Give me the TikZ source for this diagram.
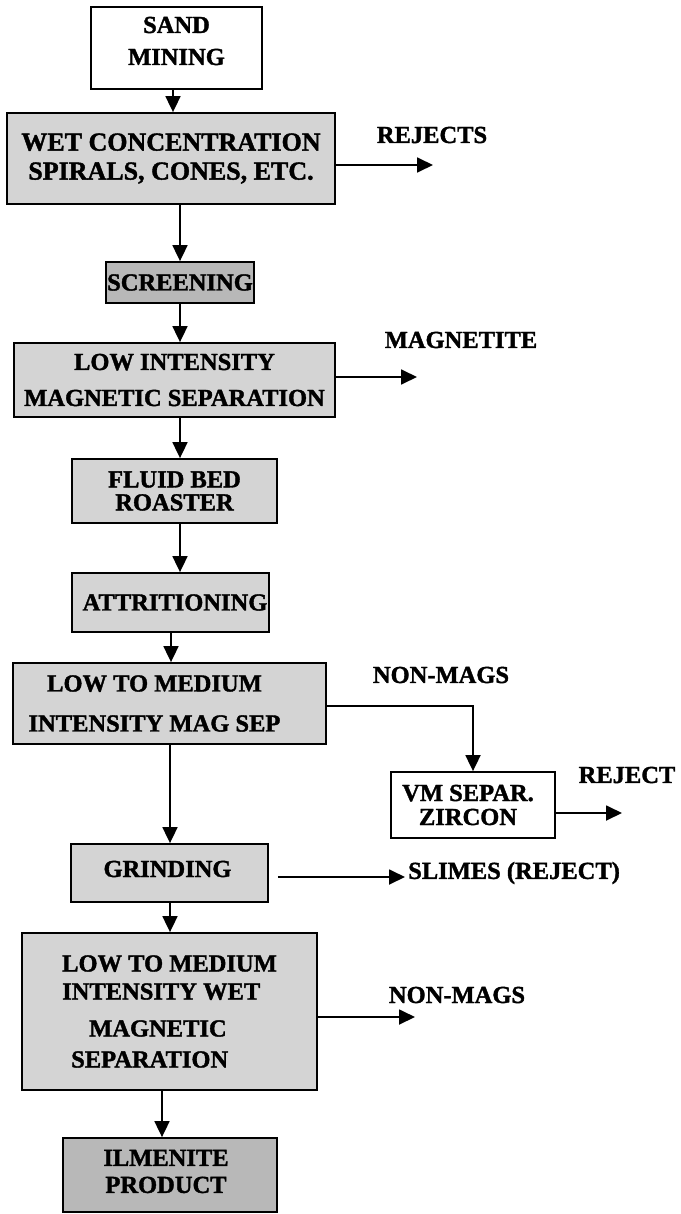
\documentclass[tikz,border=0pt]{standalone}
\usepackage{fontspec}
\setmainfont{Liberation Serif}[BoldFeatures={FakeBold=1.5}]
\usetikzlibrary{arrows.meta}
\definecolor{boxgray}{RGB}{212,212,212}
\definecolor{boxdark}{RGB}{184,184,184}
\tikzset{
  box/.style={draw=black, line width=1.8pt, inner sep=0pt},
  graybox/.style={box, fill=boxgray},
  darkbox/.style={box, fill=boxdark},
  whitebox/.style={box, fill=white},
  txt/.style={font=\fontsize{24.5}{#1}\selectfont\bfseries, align=center, inner sep=0pt},
  txt/.default=29,
  flow/.style={line width=1.8pt, -{Triangle[length=16pt,width=15pt]}},
}
\begin{document}
\begin{tikzpicture}[x=1pt,y=-1pt]
\useasboundingbox (0,0) rectangle (680,1214);

% boxes
\node[whitebox, minimum width=171pt, minimum height=82pt,
  label={[txt=32, yshift=7pt]center:{SAND\\MINING}}] (sand) at (176.5,48) {};
\node[graybox, minimum width=328pt, minimum height=91pt,
  label={[txt, font=\fontsize{26}{29}\selectfont\bfseries]center:{WET CONCENTRATION\\SPIRALS, CONES, ETC.}}] (wet) at (171,158.5) {};
\node[darkbox, minimum width=148pt, minimum height=41pt,
  label={[txt]center:{SCREENING}}] (screen) at (180,282.5) {};
\node[graybox, minimum width=321pt, minimum height=74pt,
  label={[txt=36]center:{LOW INTENSITY\\MAGNETIC SEPARATION}}] (lowint) at (174.5,380) {};
\node[graybox, minimum width=205pt, minimum height=64pt,
  label={[txt=23]center:{FLUID BED\\ROASTER}}] (fluid) at (174.5,491) {};
\node[graybox, minimum width=197pt, minimum height=59pt,
  label={[txt, xshift=4.5pt]center:{ATTRITIONING}}] (attr) at (170.5,602.5) {};
\node[graybox, minimum width=313pt, minimum height=81pt,
  label={[txt=40, xshift=-15pt]center:{LOW TO MEDIUM\\INTENSITY MAG SEP}}] (lms) at (169.5,703.5) {};
\node[whitebox, minimum width=164pt, minimum height=66pt,
  label={[txt=24, xshift=-5pt]center:{VM SEPAR.\\ZIRCON}}] (vm) at (473,805) {};
\node[graybox, minimum width=197pt, minimum height=58pt,
  label={[txt, yshift=4pt, xshift=-2pt]center:{GRINDING}}] (grind) at (169.5,873) {};
\node[graybox, minimum width=295pt, minimum height=157pt,
  label={[txt=28, align=left]center:{LOW TO MEDIUM\\INTENSITY WET\\[9pt]\hspace*{27pt}MAGNETIC\\[3pt]\hspace*{9pt}SEPARATION}}] (lmw) at (169.5,1011.5) {};
\node[darkbox, minimum width=214pt, minimum height=74pt,
  label={[txt=27, yshift=3.5pt, xshift=-4pt]center:{ILMENITE\\PRODUCT}}] (ilm) at (170,1175) {};

% outlet labels
\node[txt] (lrejects) at (432,135) {REJECTS};
\node[txt] (lmagnetite) at (461,340) {MAGNETITE};
\node[txt] (lnonmags1) at (441,675) {NON-MAGS};
\node[txt] (lreject) at (627,775) {REJECT};
\node[txt, anchor=west] (lslimes) at (408,873) {SLIMES (REJECT)};
\node[txt] (lnonmags2) at (457,995) {NON-MAGS};

% free ends
\coordinate (rejE) at (433,165);
\coordinate (magE) at (417,377);
\coordinate (rej2E) at (622,813);
\coordinate (slE) at (405,877);
\coordinate (nmE) at (415,1017);

% main line
\draw[flow] (173,0 |- sand.south) -- (173,0 |- wet.north);
\draw[flow] (180,0 |- wet.south) -- (180,0 |- screen.north);
\draw[flow] (180,0 |- screen.south) -- (180,0 |- lowint.north);
\draw[flow] (180,0 |- lowint.south) -- (180,0 |- fluid.north);
\draw[flow] (180,0 |- fluid.south) -- (180,0 |- attr.north);
\draw[flow] (171,0 |- attr.south) -- (171,0 |- lms.north);
\draw[flow] (170,0 |- lms.south) -- (170,0 |- grind.north);
\draw[flow] (170,0 |- grind.south) -- (170,0 |- lmw.north);
\draw[flow] (162,0 |- lmw.south) -- (162,0 |- ilm.north);

% side streams
\draw[flow] (wet.east |- rejE) -- (rejE);
\draw[flow] (lowint.east |- magE) -- (magE);
\draw[flow] (lms.east |- 0,706) -| (vm.north);
\draw[flow] (vm.east |- rej2E) -- (rej2E);
\draw[flow, shorten <=9pt] (grind.east |- slE) -- (slE);
\draw[flow] (lmw.east |- nmE) -- (nmE);
\end{tikzpicture}
\end{document}
